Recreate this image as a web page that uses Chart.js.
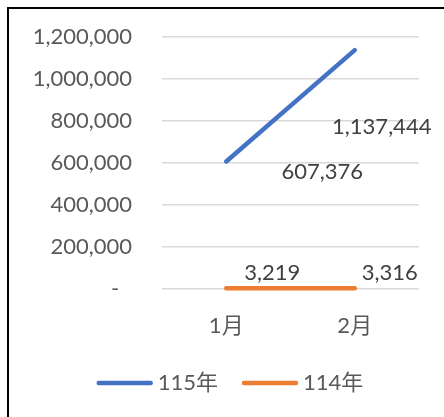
<!DOCTYPE html>
<html>
<head>
<meta charset="utf-8">
<script src="https://cdn.jsdelivr.net/npm/chart.js@4/dist/chart.umd.min.js"></script>
<style>
  html, body { margin: 0; padding: 0; background: #fff; }
  #wrap { position: relative; width: 444px; height: 417px; overflow: hidden; }
  #frame { position: absolute; left: 7px; top: 7px; width: 600px; height: 600px;
           border-left: 2px solid #000; border-top: 2px solid #000; }
  #box { position: absolute; left: 0; top: 0; width: 444px; height: 417px; }
</style>
</head>
<body>
<div id="wrap">
  <div id="frame"></div>
  <div id="box"><canvas id="lineChart"></canvas></div>
</div>
<script>
const months = ['1月', '2月'];
const seriesNames = ['115年', '114年'];
const values115 = [607376, 1137444];
const values114 = [3219, 3316];
const yTicks = [0, 200000, 400000, 600000, 800000, 1000000, 1200000];

const FONT = "Lato, 'Noto Sans CJK TC', sans-serif";
const TEXT = '#595959';

// where each value label sits, relative to its point (px)
const labelShift = [
  [{ dx: 96, dy: 10 }, { dx: 27, dy: 77 }],
  [{ dx: 46, dy: -15 }, { dx: 35, dy: -15 }],
];

const valueLabels = {
  id: 'valueLabels',
  afterDatasetsDraw(chart) {
    const ctx = chart.ctx;
    ctx.save();
    ctx.font = '22px ' + FONT;
    ctx.fillStyle = '#404040';
    ctx.textAlign = 'center';
    ctx.textBaseline = 'middle';
    chart.data.datasets.forEach((ds, i) => {
      chart.getDatasetMeta(i).data.forEach((pt, j) => {
        const s = labelShift[i][j];
        ctx.fillText(ds.data[j].toLocaleString('en-US'), pt.x + s.dx, pt.y + s.dy);
      });
    });
    ctx.restore();
  }
};

// excel-like legend: long line swatch, small gap, text
const bottomLegend = {
  id: 'bottomLegend',
  afterDraw(chart) {
    const ctx = chart.ctx;
    const lineLen = 56, gap = 5, spacing = 24, centerX = 230, y = 383;
    ctx.save();
    ctx.font = '22px ' + FONT;
    const items = chart.data.datasets.map(ds => ({ ds, w: ctx.measureText(ds.label).width }));
    const total = items.reduce((a, it) => a + lineLen + gap + it.w, 0) + spacing * (items.length - 1);
    let x = centerX - total / 2;
    items.forEach(({ ds, w }) => {
      ctx.strokeStyle = ds.borderColor;
      ctx.lineWidth = ds.borderWidth;
      ctx.lineCap = 'round';
      ctx.beginPath();
      ctx.moveTo(x + 2, y);
      ctx.lineTo(x + lineLen - 2, y);
      ctx.stroke();
      ctx.fillStyle = TEXT;
      ctx.textAlign = 'left';
      ctx.textBaseline = 'middle';
      ctx.fillText(ds.label, x + lineLen + gap, y);
      x += lineLen + gap + w + spacing;
    });
    ctx.restore();
  }
};

const ctx = document.getElementById('lineChart').getContext('2d');
new Chart(ctx, {
  type: 'line',
  data: {
    labels: months,
    datasets: [
      {
        label: seriesNames[0],
        data: values115,
        borderColor: '#4472C4',
        backgroundColor: '#4472C4',
        borderWidth: 4.5,
        borderCapStyle: 'round',
        pointRadius: 0,
        clip: false,
      },
      {
        label: seriesNames[1],
        data: values114,
        borderColor: '#ED7D31',
        backgroundColor: '#ED7D31',
        borderWidth: 4.5,
        borderCapStyle: 'round',
        pointRadius: 0,
        clip: false,
      },
    ],
  },
  options: {
    responsive: true,
    maintainAspectRatio: false,
    animation: false,
    layout: { padding: { top: 37, right: 25, left: 0, bottom: 0 } },
    plugins: {
      legend: { display: false },
      tooltip: { enabled: false },
    },
    scales: {
      x: {
        offset: true,
        grid: { display: false, drawTicks: false },
        border: { display: false },
        ticks: { color: TEXT, font: { family: FONT, size: 22 }, padding: 24 },
        afterFit: (scale) => { scale.height = 128; },
      },
      y: {
        min: 0,
        max: 1200000,
        afterBuildTicks: (scale) => { scale.ticks = yTicks.map(v => ({ value: v })); },
        grid: { color: '#d9d9d9', lineWidth: 1.5, drawTicks: false },
        border: { display: false },
        ticks: {
          color: TEXT,
          font: { family: FONT, size: 22 },
          padding: 30,
          callback: (v) => v === 0 ? '-\u2007' : v.toLocaleString('en-US'),
        },
        afterFit: (scale) => {
          scale.width = 162;
          scale.paddingTop = 0;
          scale.paddingBottom = 0;
        },
      },
    },
  },
  plugins: [valueLabels, bottomLegend],
});
</script>
</body>
</html>
